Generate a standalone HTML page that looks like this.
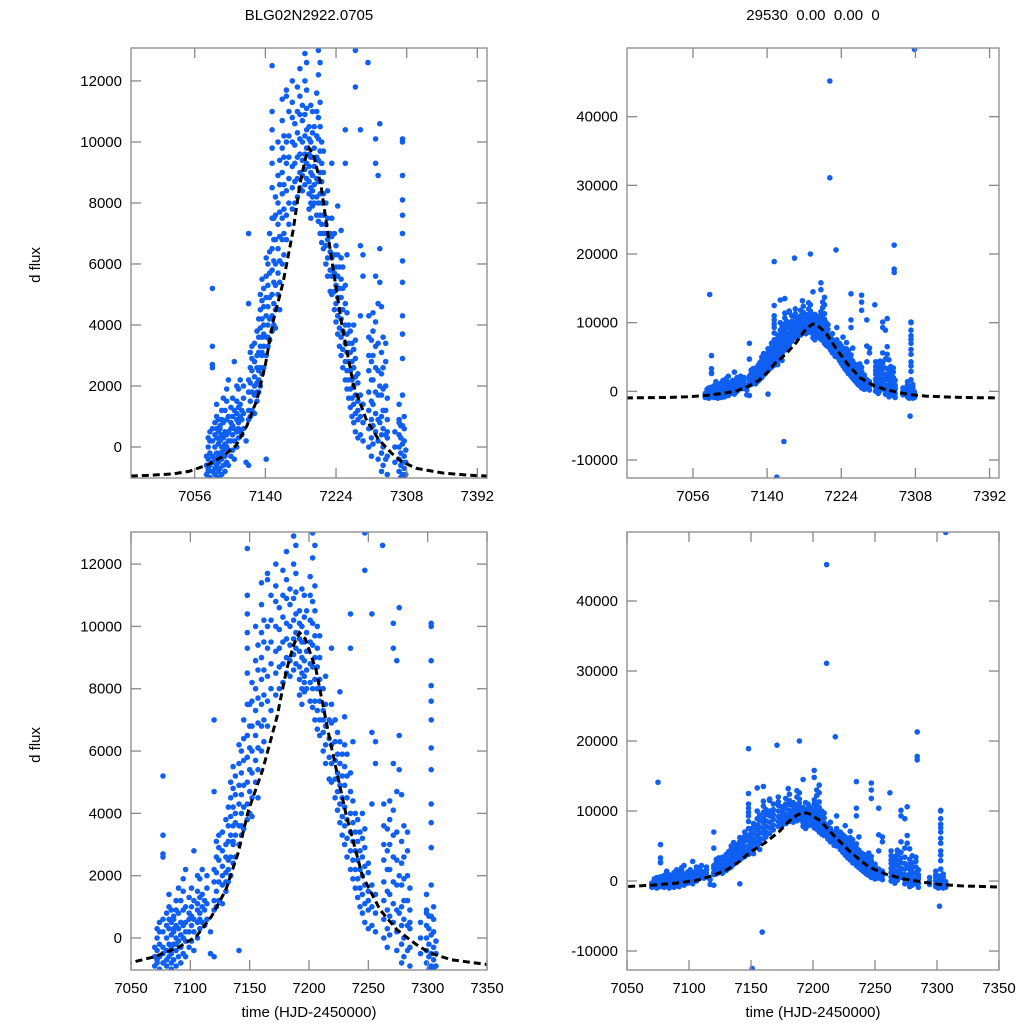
<!DOCTYPE html>
<html><head><meta charset="utf-8"><style>
html,body{margin:0;padding:0;background:#fff;width:1024px;height:1024px;overflow:hidden}
svg{display:block;font-family:"Liberation Sans",sans-serif;overflow:hidden}
</style></head><body>
<svg id="fig" width="1024" height="1024" viewBox="0 0 1024 1024">
<text x="309" y="20" text-anchor="middle" font-size="15">BLG02N2922.0705</text>
<text x="813" y="20" text-anchor="middle" font-size="15" xml:space="preserve">29530  0.00  0.00  0</text>
<text transform="translate(40,265) rotate(-90)" text-anchor="middle" font-size="15">d flux</text>
<text transform="translate(40,745) rotate(-90)" text-anchor="middle" font-size="15">d flux</text>
<text x="309" y="1017" text-anchor="middle" font-size="15">time (HJD-2450000)</text>
<text x="813" y="1017" text-anchor="middle" font-size="15">time (HJD-2450000)</text>
</svg>
<script>
// observation groups: time per night, flux values in thousands
const nightTime=[7070,7072,7074,7077,7080,7082,7084,7086,7088,7090,7092,7094,7096,7099,7101,7103,7106,7108,7110,7112,7114,7117,7120,7122,7124,7127,7130,7132,7134,7136,7138,7141,7143,7145,7148,7150,7152,7155,7157,7160,7162,7165,7168,7172,7175,7178,7181,7184,7187,7189,7192,7194,7196,7198,7201,7203,7205,7207,7209,7212,7214,7217,7219,7222,7224,7226,7228,7230,7232,7235,7237,7239,7241,7243,7245,7247,7250,7253,7256,7262,7263,7266,7268,7271,7274,7276,7278,7280,7283,7285,7294,7299,7301,7303,7305,7307,
7211,7307,7151,7159,7218,7284,7075,7189,7171,7148,7302,7192,7201,7205,7155,7160,7235,7247,7180];
const nightFluxK=[[-0.9,-0.6,-0.3],[-0.8,-0.4,0,0.3,-0.7],[-1,-0.6,-0.2,0.2,0.5],[5.2,3.3,2.7,2.6,0.6,0.2,-0.3,-0.8,-0.5],[-0.9,-0.4,0,0.4,0.8,-0.7],[-0.6,-0.2,0.3,0.6,1.0,1.4],[-1,-0.8,-0.3,0.1,0.5,0.9,-0.5],[-0.7,-0.2,0.2,0.7,0.3,0.6],[-0.9,-0.4,0,0.4,0.9,1.2,-0.2],[-0.6,-0.1,0.3,0.8,1.6],[-0.8,0.1,0.5,1.2,-0.3],[-0.5,0,0.4,0.9,1.9,1.5],[-0.6,-0.1,0.5,1.0,2.2,0.2],[-0.3,0.2,0.6,1.3,0.8],[-0.1,0.4,1.0,1.6,0.7],[0.2,0.6,1.2,2.8,-0.4],[0,0.5,1.1,1.5,2.0,0.9],[0.3,0.8,1.3,1.9,0.6],[0.5,1.0,1.4,2.2],[0.4,0.9,1.2],[0.6,1.1,1.6,2.0],[0.2,-0.5],[7.0,4.7,2.2,1.8,1.2,0.9,-0.6],[1.0,1.5,2.1,2.6,3.1],[1.2,1.8,2.5,3.3,2.9],[1.1,1.7,2.3,2.8,3.4,2.0],[1.5,2.1,2.6,3.0,3.8,1.8],[1.8,2.5,3.1,3.6,4.2,2.2],[2.0,2.6,3.3,3.9,4.5,5.0],[2.4,3.0,3.6,4.2,4.8,5.5,3.1],[2.6,3.3,4.0,4.6,5.2,3.7],[3.0,3.6,4.3,4.9,5.6,6.2,-0.4],[3.3,4.0,4.6,5.3,6.0,3.6],[3.5,4.2,4.9,5.7,6.4,7.0],[12.5,11.0,10.4,9.8,9.3,8.5,7.5,6.5,5.8,5.0,4.3,3.8],[4.0,4.7,5.4,6.1,6.8,7.5],[4.5,5.3,6.0,6.8,7.6,8.2,3.9],[5.0,5.7,6.5,7.3,8.0,8.9,10.0],[5.4,6.1,6.9,7.7,8.6,9.4,4.5],[6.0,6.8,7.5,8.3,9.0,9.8,10.7,11.4],[6.3,7.0,7.8,8.6,9.5,10.2],[6.8,7.6,8.4,9.3,10.0,11.7,11.5],[7.3,8.0,8.8,9.5,10.2,11.0],[7.8,8.5,9.2,10.0,10.8,11.3,12.0],[8.0,8.7,9.3,9.9,10.6],[8.2,8.8,9.5,10.3,11.0,11.8],[8.5,9.0,9.6,10.1,10.9,11.5,12.4],[8.4,8.9,9.4,10.0,10.7,11.2],[8.6,9.1,9.6,10.2,10.9,12.0,12.9],[8.8,9.3,9.8,10.4,11.1,11.7,12.6],[7.8,8.3,8.7,9.2,9.6,10.1,10.5],[7.5,8.0,8.5,9.0,9.5,10.0,11.2],[7.9,8.4,8.9,9.5,10.3,11.0,8.2],[8.0,8.6,9.2,9.8,10.5],[7.6,8.2,8.8,9.5,10.2,11.0,11.6],[7.4,8.0,8.7,9.4,10.1,10.8,12.2,13.0],[7.0,7.6,8.3,9.0,9.7,10.5,11.3,12.6],[6.7,7.3,8.0,8.7,9.3,10.0],[6.5,7.0,7.6,8.3,9.0,9.7,8.0],[6.0,6.6,7.3,8.0,7.0],[5.6,6.2,6.8,7.5,8.4],[5.1,5.8,6.4,7.0],[5.0,5.6,6.2,6.9,7.5,9.3],[4.5,5.1,5.7,6.3,7.0],[4.1,4.7,5.3,5.9,6.6],[3.7,4.3,4.9,5.6,6.3,7.9],[3.3,3.9,4.5,5.2,5.9],[3.0,3.6,4.2,4.9,5.5,6.2,7.1],[2.6,3.2,3.8,4.5,5.2,5.9],[2.2,2.8,3.4,4.0,4.7,5.3,9.3,10.4],[1.9,2.5,3.1,3.7,4.4,6.3],[1.6,2.2,2.8,3.4,4.0],[1.3,1.9,2.5,3.1,3.8],[1.0,1.6,2.2,2.8,3.4],[0.8,1.4,2.0,2.6,3.2,4.0],[0.5,1.1,1.7,2.3,2.9,3.5,11.8],[0.3,0.9,1.5,2.1,1.2,2.4],[0.4,1.0,1.7,4.3,6.6,10.4],[0.2,0.8,1.4,5.6,6.3],[12.6],[0.0,0.6,1.2,1.8,2.5,3.0,3.6,4.3],[-0.3,0.3,0.9,1.5,2.2,2.8,3.5],[0.1,0.7,1.4,2.2,3.0,3.8,4.4],[10.1,9.3,0.5,1.1,1.8,2.6,3.3,4.1,5.6],[8.9,-0.4,0.2,0.9,1.7,2.5,3.4,4.7],[10.6,6.5,5.4,2.0,0.8],[-0.8,-0.2,0.4,1.0,1.7,2.4,3.1,4.6],[-0.6,0.0,0.6,1.2,1.9,2.6,3.6],[3.4,2.8,2.0,1.2,0.4,-0.4],[-0.9,-0.3,0.3,0.9,1.6,0.5],[-0.5,0.0,0.5],[-0.8,-0.4,0,0.4,0.8,1.4,0.9],[-1.0,-0.6,-0.2,0.3,0.7],[10.1,10.0,8.9,8.1,7.6,7.0,6.1,5.4,4.3,3.7,2.9,1.7,-0.9,-0.5,0.1,0.7],[-1,-0.7,-0.3,0.2,0.6,1.0],[-0.9,-0.5,-0.1],
[45.2,31.1],[49.8],[-12.5],[-7.3],[20.6],[21.3,17.8,17.3],[14.1],[20.0],[19.4],[18.9],[-3.6],[14.5],[15.8,14.8],[13.7],[13.3],[13.5],[14.2],[14.0,13.0],[13.2]];
// model curve samples
const modelTime=[6980,7000,7030,7049,7070,7090,7105,7118,7130,7140,7149,7161,7173,7181,7187,7192,7197,7206,7217,7231,7245,7260,7274,7290,7302,7320,7350,7380,7403];
const modelFluxK=[-0.95,-0.93,-0.88,-0.8,-0.6,-0.3,0.05,0.7,1.55,2.7,4.1,5.4,7.1,8.6,9.4,9.8,9.6,8.6,6.46,4.0,2.0,0.9,0.27,-0.2,-0.48,-0.7,-0.85,-0.92,-0.95];
// panel axis ticks
const xTicksTop=[7056,7140,7224,7308,7392];
const xTicksBottom=[7050,7100,7150,7200,7250,7300,7350];
const yTicksLeft=[0,2000,4000,6000,8000,10000,12000];
const yTicksRight=[-10000,0,10000,20000,30000,40000];

const NS='http://www.w3.org/2000/svg';
const svg=document.getElementById('fig');
function mk(tag,attrs,parent){const e=document.createElementNS(NS,tag);for(const k in attrs)e.setAttribute(k,attrs[k]);(parent||svg).appendChild(e);return e;}
const panels=[
 {id:'top-left',x0:131,x1:487,y0:48,y1:478,tmin:6980.2,tmax:7403.5,fmin:-1016,fmax:13080,xt:xTicksTop,yt:yTicksLeft},
 {id:'top-right',x0:627,x1:999,y0:48,y1:478,tmin:6981.3,tmax:7402.7,fmin:-12620,fmax:50000,xt:xTicksTop,yt:yTicksRight},
 {id:'bottom-left',x0:131,x1:487,y0:532,y1:970,tmin:7050,tmax:7350,fmin:-1027,fmax:13030,xt:xTicksBottom,yt:yTicksLeft},
 {id:'bottom-right',x0:627,x1:999,y0:532,y1:970,tmin:7050,tmax:7350,fmin:-12710,fmax:49860,xt:xTicksBottom,yt:yTicksRight}];
panels.forEach((p,pi)=>{
 const sx=t=>p.x0+(t-p.tmin)/(p.tmax-p.tmin)*(p.x1-p.x0);
 const sy=f=>p.y1-(f-p.fmin)/(p.fmax-p.fmin)*(p.y1-p.y0);
 const g=mk('g',{});
 
 
 const cp=mk('clipPath',{id:'clip'+pi},g);
 mk('rect',{x:p.x0,y:p.y0,width:p.x1-p.x0,height:p.y1-p.y0},cp);
 const pts=mk('g',{'clip-path':'url(#clip'+pi+')',fill:'#0f5ff2'},g);
 
 
 nightTime.forEach((t,i)=>{nightFluxK[i].forEach(v=>{
  const c=mk('circle',{cx:sx(t).toFixed(1),cy:sy(v*1000).toFixed(1),r:2.8},pts);
  
  
 });});
 let d='';modelTime.forEach((t,i)=>{d+=(i?'L':'M')+sx(t).toFixed(1)+','+sy(modelFluxK[i]*1000).toFixed(1);});
 const ml=mk('path',{d:d,fill:'none',stroke:'#000','stroke-width':3,'stroke-dasharray':'7,4','clip-path':'url(#clip'+pi+')'},g);
 
 
 const fr=mk('rect',{x:p.x0,y:p.y0,width:p.x1-p.x0,height:p.y1-p.y0,fill:'none',stroke:'#888','stroke-width':1.3},g);
 
 
 p.xt.forEach(t=>{const x=sx(t);
  mk('line',{x1:x,x2:x,y1:p.y1,y2:p.y1-10,stroke:'#888','stroke-width':1.3},g);
  mk('line',{x1:x,x2:x,y1:p.y0,y2:p.y0+10,stroke:'#888','stroke-width':1.3},g);
  const tx=mk('text',{x:x,y:p.y1+23,'text-anchor':'middle','font-size':15},g);tx.textContent=t;
  
  
 });
 p.yt.forEach(f=>{const y=sy(f);
  mk('line',{x1:p.x0,x2:p.x0+10,y1:y,y2:y,stroke:'#888','stroke-width':1.3},g);
  mk('line',{x1:p.x1,x2:p.x1-10,y1:y,y2:y,stroke:'#888','stroke-width':1.3},g);
  const tx=mk('text',{x:p.x0-9,y:y+5,'text-anchor':'end','font-size':15},g);tx.textContent=f;
  
  
 });
});
</script>
</body></html>
